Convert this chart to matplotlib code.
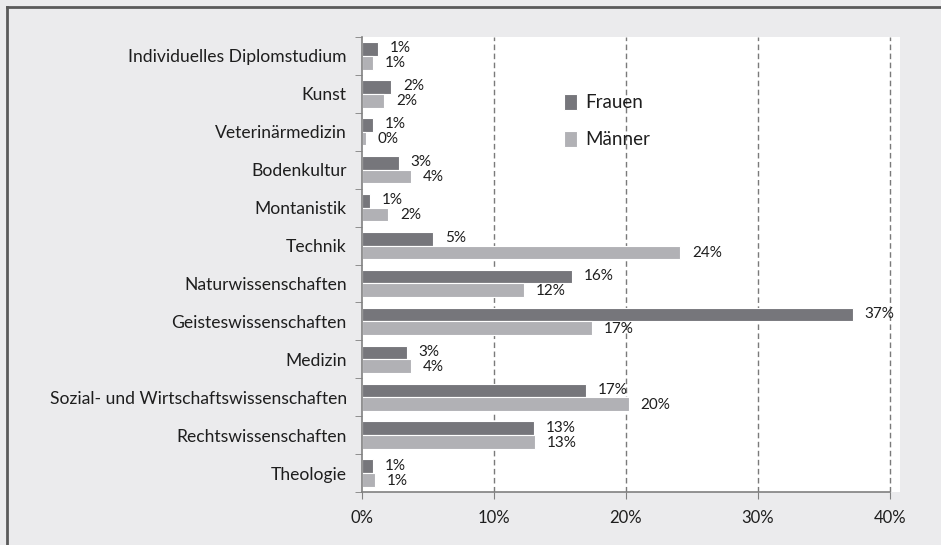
import matplotlib.pyplot as plt
from matplotlib.lines import Line2D
from matplotlib.ticker import FixedLocator, FuncFormatter
import numpy as np

plt.rcParams['font.family'] = ['Lato', 'DejaVu Sans']

faecher = ['Individuelles Diplomstudium', 'Kunst', 'Veterinärmedizin', 'Bodenkultur',
           'Montanistik', 'Technik', 'Naturwissenschaften', 'Geisteswissenschaften',
           'Medizin', 'Sozial- und Wirtschaftswissenschaften', 'Rechtswissenschaften',
           'Theologie']
frauen = [1.2, 2.2, 0.8, 2.8, 0.6, 5.4, 15.9, 37.2, 3.4, 17.0, 13.0, 0.8]
maenner = [0.8, 1.7, 0.3, 3.7, 2.0, 24.1, 12.3, 17.4, 3.7, 20.2, 13.1, 1.0]
x_ticks = [0, 10, 20, 30, 40]

c_frauen = '#76767b'
c_maenner = '#b1b1b5'
bg = '#ebebed'
txt = '#1e1e1e'

fig = plt.figure(figsize=(9.41, 5.45), dpi=100, facecolor=bg)
ax = fig.add_axes([362/941, 1-492/545, 538/941, 455/545])
ax.set_facecolor('white')

n = len(faecher)
y = np.arange(n)[::-1]
h = 0.36
b1 = ax.barh(y + h/2, frauen, height=h, color=c_frauen, edgecolor='white', linewidth=0.8, label='Frauen')
b2 = ax.barh(y - h/2, maenner, height=h, color=c_maenner, edgecolor='white', linewidth=0.8, label='Männer')

for bars, vals, dy in ((b1, frauen, 0.5), (b2, maenner, -0.5)):
    for bar, v in zip(bars, vals):
        ax.annotate(f'{v:.0f}%', (v, bar.get_y() + bar.get_height()/2),
                    xytext=(8.5, dy), textcoords='offset points',
                    ha='left', va='center', fontsize=11, color=txt)

ax.set_xlim(0, 40 * 538/528)
ax.set_ylim(-0.5, n - 0.5)
ax.set_xticks(x_ticks)
ax.xaxis.set_major_formatter(FuncFormatter(lambda v, p: f'{v:.0f}%'))
ax.tick_params(axis='x', direction='out', length=5, color='#808080', labelsize=12,
               labelcolor=txt, pad=8)
ax.set_yticks(y)
ax.set_yticklabels(faecher)
ax.yaxis.set_minor_locator(FixedLocator(np.arange(n + 1) - 0.5))
ax.tick_params(axis='y', which='major', length=0, labelsize=12.6, labelcolor=txt, pad=11)
ax.tick_params(axis='y', which='minor', direction='out', length=5, color='#808080')

for xv in x_ticks[1:]:
    ax.axvline(xv, color='#7a7a7a', linestyle=(0, (4, 2.5)), linewidth=1, zorder=0)

for s in ('top', 'right'):
    ax.spines[s].set_visible(False)
for s in ('left', 'bottom'):
    ax.spines[s].set_color('#808080')
    ax.spines[s].set_linewidth(1.2)
ax.spines['bottom'].set_bounds(0, 40)

fig.legend(handles=[b1, b2], loc='upper left', bbox_to_anchor=(564/941, 1-94/545),
           frameon=False, fontsize=13.5, labelspacing=1.05, handlelength=0.7,
           handleheight=0.9, handletextpad=0.45, borderpad=0, borderaxespad=0,
           labelcolor=txt)

# outer frame lines
fig.add_artist(Line2D([7/941, 1], [1-7/545, 1-7/545], color='#5a5a5a', linewidth=2))
fig.add_artist(Line2D([7/941, 7/941], [0, 1-7/545], color='#5a5a5a', linewidth=2))

fig.savefig('out.png', dpi=100, facecolor=bg)
